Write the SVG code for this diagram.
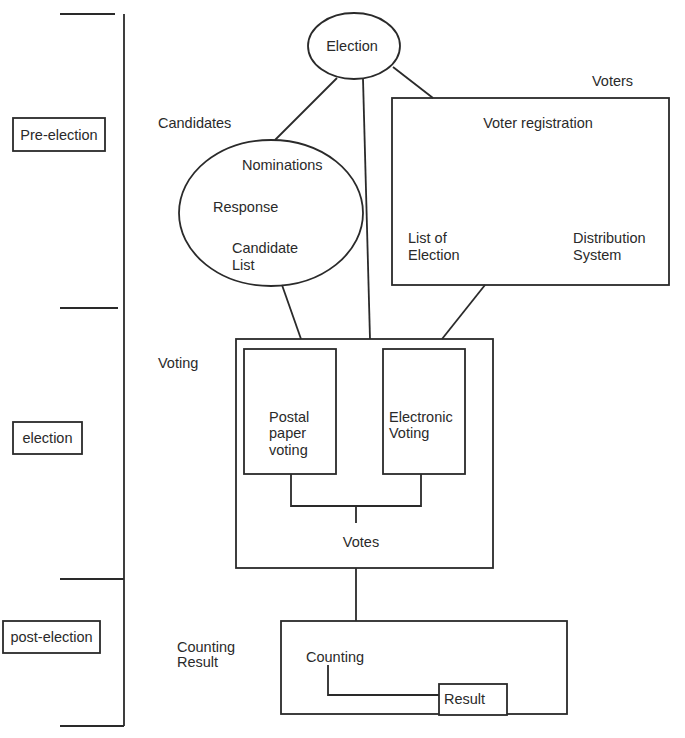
<svg xmlns="http://www.w3.org/2000/svg" width="685" height="738" viewBox="0 0 685 738">
<style>
text{font-family:"Liberation Sans",Arial,sans-serif;font-size:14.5px;fill:#2a2a2a}
.s{fill:none;stroke:#2a2a2a;stroke-width:1.8}
.b{fill:#fff;stroke:#2a2a2a;stroke-width:1.8}
.m{text-anchor:middle}
</style>
<rect width="685" height="738" fill="#fff"/>
<g id="timeline">
<line class="s" x1="124" y1="14" x2="124" y2="726"/>
<line class="s" x1="60" y1="14" x2="115" y2="14"/>
<line class="s" x1="60" y1="308" x2="118" y2="308"/>
<line class="s" x1="60" y1="579" x2="124" y2="579"/>
<line class="s" x1="60" y1="726" x2="124" y2="726"/>
</g>
<g id="phase-pre"><rect class="b" x="13" y="118" width="92" height="33"/><text class="m" x="59" y="140">Pre-election</text></g>
<g id="phase-election"><rect class="b" x="13" y="422" width="69" height="32"/><text class="m" x="47.5" y="443">election</text></g>
<g id="phase-post"><rect class="b" x="3" y="621" width="97" height="32"/><text class="m" x="51.5" y="642">post-election</text></g>
<g id="election-node"><ellipse class="b" cx="354" cy="46" rx="46" ry="33"/><text class="m" x="352" y="51">Election</text></g>
<g id="candidates-node">
<ellipse class="b" cx="271" cy="213" rx="92" ry="73"/>
<text x="158" y="128">Candidates</text>
<text x="242" y="170">Nominations</text>
<text x="213" y="212">Response</text>
<text x="232" y="253">Candidate</text>
<text x="232" y="270">List</text>
</g>
<g id="voters-node">
<rect class="b" x="392" y="98" width="277" height="187"/>
<text x="592" y="86">Voters</text>
<text class="m" x="538" y="128">Voter registration</text>
<text x="408" y="243">List of</text>
<text x="408" y="260">Election</text>
<text x="573" y="243">Distribution</text>
<text x="573" y="260">System</text>
</g>
<g id="voting-node">
<rect class="b" x="236" y="339" width="257" height="229"/>
<text x="158" y="368">Voting</text>
<text class="m" x="361" y="547">Votes</text>
</g>
<g id="postal-node">
<rect class="b" x="244" y="349" width="92" height="125"/>
<text x="269" y="422">Postal</text>
<text x="269" y="438">paper</text>
<text x="269" y="455">voting</text>
</g>
<g id="electronic-node">
<rect class="b" x="383" y="349" width="82" height="125"/>
<text x="389" y="422">Electronic</text>
<text x="389" y="438">Voting</text>
</g>
<g id="counting-node">
<rect class="b" x="281" y="621" width="286" height="93"/>
<text x="177" y="652">Counting</text>
<text x="177" y="667">Result</text>
<text x="306" y="662">Counting</text>
</g>
<g id="result-node">
<rect class="b" x="439" y="684" width="68" height="31"/>
<text x="444" y="704">Result</text>
</g>
<g id="connectors">
<line class="s" x1="337" y1="78" x2="275" y2="140"/>
<line class="s" x1="363" y1="79" x2="370" y2="339"/>
<line class="s" x1="393" y1="67" x2="433" y2="98"/>
<line class="s" x1="282" y1="285" x2="301" y2="339"/>
<line class="s" x1="485" y1="285" x2="442" y2="339"/>
<polyline class="s" points="291,474 291,506 421,506 421,474"/>
<line class="s" x1="356" y1="506" x2="356" y2="523"/>
<line class="s" x1="356" y1="568" x2="356" y2="621"/>
<polyline class="s" points="328,665 328,695 439,695"/>
</g>
</svg>
